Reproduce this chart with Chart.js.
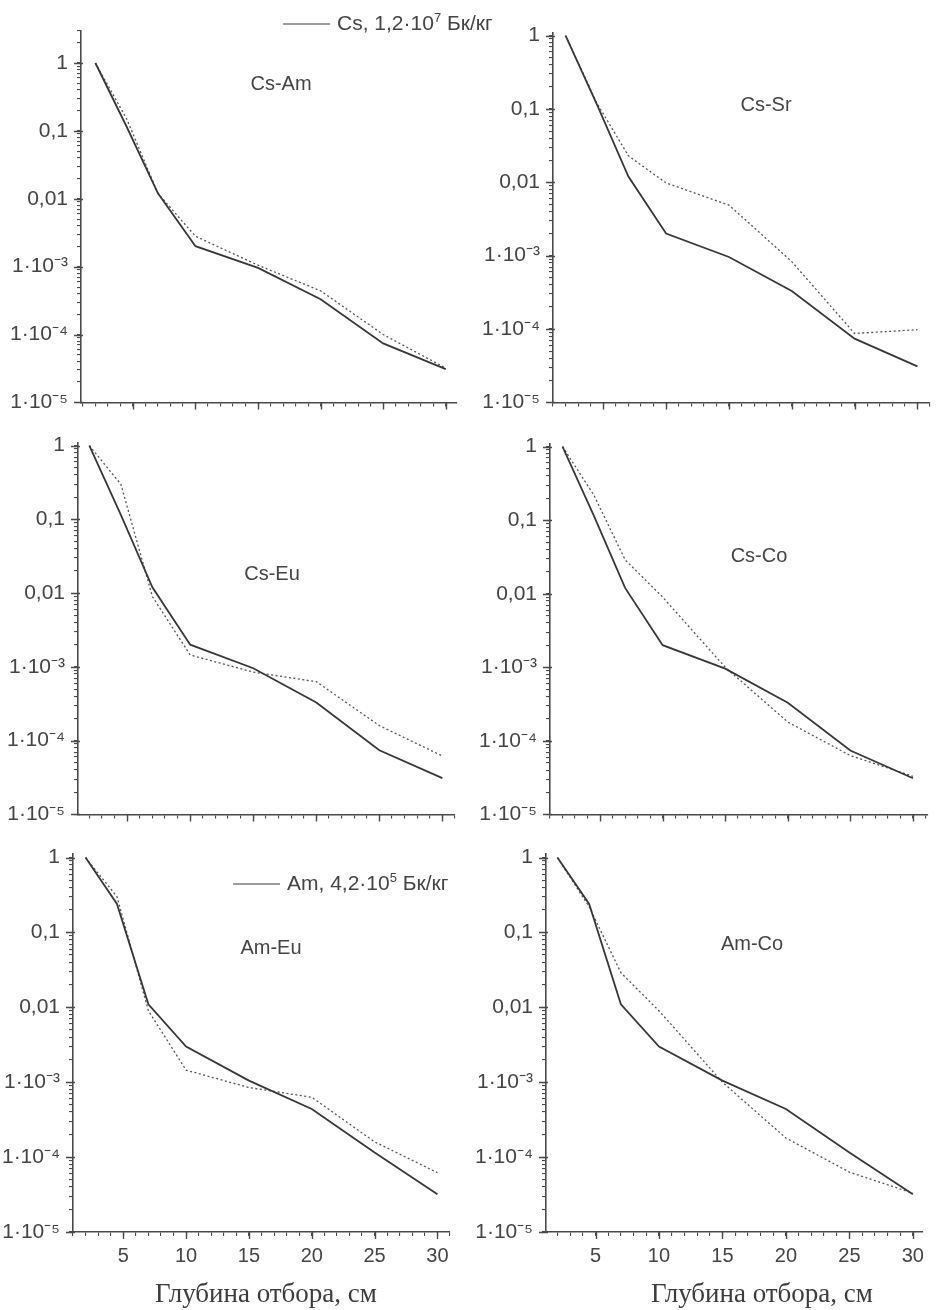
<!DOCTYPE html>
<html>
<head>
<meta charset="utf-8">
<script src="https://cdn.jsdelivr.net/npm/chart.js@4.4.1/dist/chart.umd.min.js"></script>
<style>
  html, body { margin: 0; padding: 0; background: #ffffff; }
  body { width: 951px; height: 1310px; position: relative; overflow: hidden;
         font-family: "Liberation Sans", Arial, sans-serif; color: #454545; }
  canvas { position: absolute; }
  .ptitle { position: absolute; font-size: 20px; line-height: 1; white-space: nowrap;
            transform: translate(-50%, -50%); color: #454545; }
  .legend { position: absolute; font-size: 21px; line-height: 1; white-space: nowrap;
            transform: translateY(-50%); color: #454545; }
  .legend .ln { display: inline-block; width: 47px; height: 0; border-top: 1.5px solid #3c3c3c;
                vertical-align: middle; margin-right: 7px; }
  .legend sup { font-size: 13px; vertical-align: 8px; line-height: 0; }
  .xtitle { position: absolute; font-family: "Liberation Serif", "Times New Roman", serif;
            font-size: 27px; line-height: 1; white-space: nowrap; transform: translate(-50%, -50%);
            color: #3c3c3c; }
</style>
</head>
<body>
<canvas id="p1"></canvas>
<canvas id="p2"></canvas>
<canvas id="p3"></canvas>
<canvas id="p4"></canvas>
<canvas id="p5"></canvas>
<canvas id="p6"></canvas>

<div class="ptitle" style="left:281px; top:83px;">Cs-Am</div>
<div class="ptitle" style="left:766px; top:104px;">Cs-Sr</div>
<div class="ptitle" style="left:272px; top:573px;">Cs-Eu</div>
<div class="ptitle" style="left:759px; top:555px;">Cs-Co</div>
<div class="ptitle" style="left:271px; top:947px;">Am-Eu</div>
<div class="ptitle" style="left:752px; top:943px;">Am-Co</div>

<div class="legend" style="left:283px; top:22px;"><span class="ln"></span>Cs, 1,2·10<sup>7</sup> Бк/кг</div>
<div class="legend" style="left:233px; top:882px;"><span class="ln"></span>Am, 4,2·10<sup>5</sup> Бк/кг</div>

<div class="xtitle" style="left:266px; top:1293px;">Глубина отбора, см</div>
<div class="xtitle" style="left:762px; top:1293px;">Глубина отбора, см</div>

<script>
// ---- data (depth in cm, relative activity) ----
const depth = [2, 4.5, 7, 10, 15, 20, 25, 30];
const cs     = [1, 0.115, 0.012, 0.0020, 0.00096, 0.00033, 0.000074, 0.000031];
const amCsAm = [1, 0.15, 0.012, 0.0028, 0.00105, 0.00044, 0.000100, 0.000032];
const sr     = [1, 0.12, 0.023, 0.0098, 0.0049, 0.00083, 0.000087, 0.000098];
const eu     = [1, 0.30, 0.009, 0.00145, 0.00085, 0.00063, 0.00016, 0.000062];
const co     = [1, 0.22, 0.029, 0.0090, 0.0010, 0.00018, 0.000063, 0.000033];
const am     = [1, 0.24, 0.011, 0.0030, 0.00105, 0.00044, 0.000115, 0.000032];

const yTickValues = [1, 0.1, 0.01, 1e-3, 1e-4, 1e-5];
const yTickLabels = ['1', '0,1', '0,01', '1·10⁻³', '1·10⁻⁴', '1·10⁻⁵'];
const xTickValues = [5, 10, 15, 20, 25, 30];
const xTickLabels = ['5', '10', '15', '20', '25', '30'];

// ---- layout (page pixel positions of each plot area) ----
const panels = [
  { id: 'p1', L: 81,  R: 457, T: 25,  B: 408,  xMin: 0.85, xMax: 30.9, yMax: 3,    solid: cs, dotted: amCsAm, xLabels: false },
  { id: 'p2', L: 553, R: 930, T: 27,  B: 408,  xMin: 1.0,  xMax: 31.0, yMax: 1.1,  solid: cs, dotted: sr,     xLabels: false },
  { id: 'p3', L: 78,  R: 455, T: 437, B: 820,  xMin: 1.1,  xMax: 31.0, yMax: 1.1,  solid: cs, dotted: eu,     xLabels: false },
  { id: 'p4', L: 550, R: 928, T: 438, B: 820,  xMin: 1.0,  xMax: 31.2, yMax: 1.1,  solid: cs, dotted: co,     xLabels: false },
  { id: 'p5', L: 73,  R: 450, T: 848, B: 1232, xMin: 1.0,  xMax: 31.0, yMax: 1.13, solid: am, dotted: eu,     xLabels: true },
  { id: 'p6', L: 546, R: 923, T: 848, B: 1232, xMin: 1.1,  xMax: 30.8, yMax: 1.13, solid: am, dotted: co,     xLabels: true }
];

const AXIS = '#4a4a4a';
const Y_W = 80, PAD_T = 16, PAD_R = 14;

const majorTicks = {
  id: 'majorTicks',
  afterDraw(chart) {
    const ctx = chart.ctx, xs = chart.scales.x, ys = chart.scales.y;
    ctx.save();
    ctx.strokeStyle = AXIS;
    ctx.lineWidth = 1.4;
    ctx.beginPath();
    xTickValues.forEach(v => {
      const px = Math.round(xs.getPixelForValue(v)) + 0.5;
      ctx.moveTo(px, ys.bottom); ctx.lineTo(px, ys.bottom + 7);
    });
    yTickValues.forEach(v => {
      const py = Math.round(ys.getPixelForValue(v)) + 0.5;
      ctx.moveTo(xs.left - 7, py); ctx.lineTo(xs.left + 2, py);
    });
    ctx.stroke();
    ctx.restore();
  }
};

function near(a, b) { return Math.abs(a - b) <= Math.abs(b) * 1e-6; }

panels.forEach(p => {
  const xH = p.xLabels ? 46 : 16;
  const cv = document.getElementById(p.id);
  const w = (p.R - p.L) + Y_W + PAD_R;
  const h = (p.B - p.T) + PAD_T + xH;
  cv.width = w; cv.height = h;
  cv.style.left = (p.L - Y_W) + 'px';
  cv.style.top = (p.T - PAD_T) + 'px';
  cv.style.width = w + 'px'; cv.style.height = h + 'px';

  new Chart(cv, {
    type: 'line',
    data: {
      datasets: [
        { data: depth.map((d, i) => ({ x: d, y: p.solid[i] })),
          borderColor: '#383838', borderWidth: 1.8, pointRadius: 0, tension: 0, fill: false },
        { data: depth.map((d, i) => ({ x: d, y: p.dotted[i] })),
          borderColor: '#555555', borderWidth: 1.3, borderDash: [2, 2.5], pointRadius: 0, tension: 0, fill: false }
      ]
    },
    options: {
      responsive: false, animation: false, devicePixelRatio: 1,
      layout: { padding: { left: 0, top: PAD_T, right: PAD_R, bottom: 0 } },
      plugins: { legend: { display: false }, tooltip: { enabled: false } },
      scales: {
        x: {
          type: 'linear', min: p.xMin, max: p.xMax,
          afterBuildTicks(s) {
            const t = [];
            for (let v = Math.ceil(p.xMin); v <= Math.floor(p.xMax); v++) t.push({ value: v });
            s.ticks = t;
          },
          afterFit(s) { s.height = xH; },
          ticks: {
            display: p.xLabels, autoSkip: false, maxRotation: 0, padding: 8,
            color: '#454545', font: { family: '"Liberation Sans", Arial, sans-serif', size: 20 },
            callback(v) { const i = xTickValues.indexOf(v); return i >= 0 ? xTickLabels[i] : ''; }
          },
          grid: { display: true, drawOnChartArea: false, drawTicks: true, tickLength: 4, color: AXIS, lineWidth: 1.1 },
          border: { display: true, color: AXIS, width: 1.6 }
        },
        y: {
          type: 'logarithmic', min: 1e-5, max: p.yMax,
          afterBuildTicks(s) {
            const t = [];
            for (let e = -5; e <= 0; e++) {
              for (let k = 1; k <= 9; k++) {
                const v = k * Math.pow(10, e);
                if (v >= 1e-5 * 0.999 && v <= p.yMax * 1.0001) t.push({ value: v });
              }
            }
            s.ticks = t;
          },
          afterFit(s) { s.width = Y_W; },
          ticks: {
            autoSkip: false, padding: 9, color: '#454545',
            font: { family: '"Liberation Sans", Arial, sans-serif', size: 21 },
            callback(v) {
              for (let i = 0; i < yTickValues.length; i++) if (near(v, yTickValues[i])) return yTickLabels[i];
              return '';
            }
          },
          grid: { display: true, drawOnChartArea: false, drawTicks: true, tickLength: 4, color: AXIS, lineWidth: 1.1 },
          border: { display: true, color: AXIS, width: 1.6 }
        }
      }
    },
    plugins: [majorTicks]
  });
});
</script>
</body>
</html>
